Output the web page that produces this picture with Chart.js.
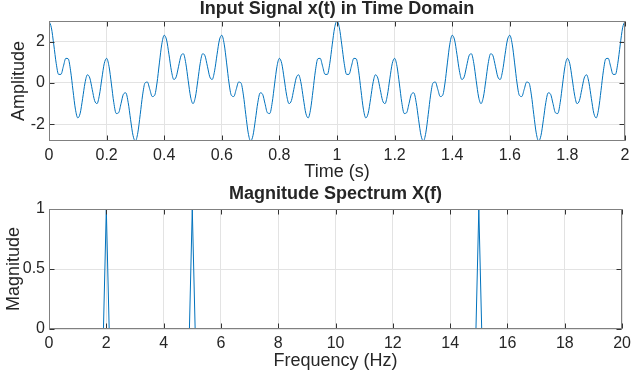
<!DOCTYPE html>
<html>
<head>
<meta charset="utf-8">
<script src="https://cdn.jsdelivr.net/npm/chart.js@4.4.0/dist/chart.umd.min.js"></script>
<style>
  html, body { margin: 0; padding: 0; background: #fff; }
  #wrap { position: relative; width: 636px; height: 374px; }
  #timeCanvas { position: absolute; left: 0; top: 0; }
  #specCanvas { position: absolute; left: 0; top: 185px; }
</style>
</head>
<body>
<div id="wrap">
  <canvas id="timeCanvas" width="636" height="185"></canvas>
  <canvas id="specCanvas" width="636" height="189"></canvas>
</div>
<script>
const timeStep = 1 / 120;
const amplitude = [
  // 0 .. 0.5 s
  3, 2.668, 1.844, 0.951, 0.414, 0.418, 0.809, 1.191,
  1.169, 0.588, -0.366, -1.266, -1.691, -1.465, -0.762, 0.0,
  0.396, 0.240, -0.309, -0.855, -1.0, -0.588, 0.197, 0.930,
  1.191, 0.807, -0.048, -0.951, -1.478, -1.443, -1.0, -0.546,
  -0.478, -0.951, -1.780, -2.539, -2.809, -2.416, -1.535, -0.588,
  0.0, 0.042, -0.309, -0.656, -0.605, 0.0, 0.971, 1.881,
  2.309, 2.080, 1.366, 0.588, 0.169, 0.295, 0.809, 1.314,
  1.414, 0.951, 0.112, -0.679,
  -1.0,
  // 0.5 .. 1 s
  -0.679, 0.112, 0.951, 1.414,
  1.314, 0.809, 0.295, 0.169, 0.588, 1.366, 2.080, 2.309,
  1.881, 0.971, 0.0, -0.605, -0.656, -0.309, 0.042, 0.0,
  -0.588, -1.535, -2.416, -2.809, -2.539, -1.780, -0.951, -0.478,
  -0.546, -1.0, -1.443, -1.478, -0.951, -0.048, 0.807, 1.191,
  0.930, 0.197, -0.588, -1.0, -0.855, -0.309, 0.240, 0.396,
  0.0, -0.762, -1.465, -1.691, -1.266, -0.366, 0.588, 1.169,
  1.191, 0.809, 0.418, 0.414, 0.951, 1.844, 2.668, 3,
  // 1 .. 1.5 s
  2.668, 1.844, 0.951, 0.414, 0.418, 0.809, 1.191,
  1.169, 0.588, -0.366, -1.266, -1.691, -1.465, -0.762, 0.0,
  0.396, 0.240, -0.309, -0.855, -1.0, -0.588, 0.197, 0.930,
  1.191, 0.807, -0.048, -0.951, -1.478, -1.443, -1.0, -0.546,
  -0.478, -0.951, -1.780, -2.539, -2.809, -2.416, -1.535, -0.588,
  0.0, 0.042, -0.309, -0.656, -0.605, 0.0, 0.971, 1.881,
  2.309, 2.080, 1.366, 0.588, 0.169, 0.295, 0.809, 1.314,
  1.414, 0.951, 0.112, -0.679,
  -1.0,
  // 1.5 .. 2 s
  -0.679, 0.112, 0.951, 1.414,
  1.314, 0.809, 0.295, 0.169, 0.588, 1.366, 2.080, 2.309,
  1.881, 0.971, 0.0, -0.605, -0.656, -0.309, 0.042, 0.0,
  -0.588, -1.535, -2.416, -2.809, -2.539, -1.780, -0.951, -0.478,
  -0.546, -1.0, -1.443, -1.478, -0.951, -0.048, 0.807, 1.191,
  0.930, 0.197, -0.588, -1.0, -0.855, -0.309, 0.240, 0.396,
  0.0, -0.762, -1.465, -1.691, -1.266, -0.366, 0.588, 1.169,
  1.191, 0.809, 0.418, 0.414, 0.951, 1.844, 2.668, 3
];

// Magnitude spectrum
const freqHz = [0, 1.9, 2, 2.1, 4.9, 5, 5.1, 14.9, 15, 15.1, 20];
const magnitude = [0, 0, 1, 0, 0, 1, 0, 0, 1, 0, 0];

// Tick values
const timeTicks = [0, 0.2, 0.4, 0.6, 0.8, 1, 1.2, 1.4, 1.6, 1.8, 2];
const ampTicks = [-2, 0, 2];
const freqTicks = [0, 2, 4, 6, 8, 10, 12, 14, 16, 18, 20];
const magTicks = [0, 0.5, 1];

const FONT = "'Liberation Sans', Arial, Helvetica, sans-serif";
const TEXT = '#262626';
const LINE = '#0072BD';
const GRID = '#e3e3e3';

// MATLAB-style box, inward ticks and titles
const matlabAxes = {
  id: 'matlabAxes',
  afterDraw(chart, args, opts) {
    const ctx = chart.ctx;
    const a = chart.chartArea;
    const xs = chart.scales.x, ys = chart.scales.y;
    const L = Math.round(a.left) + 0.5, R = Math.round(a.right) - 0.5;
    const T = Math.round(a.top) + 0.5, B = Math.round(a.bottom) - 0.5;
    ctx.save();
    // tick marks
    ctx.strokeStyle = '#333';
    ctx.lineWidth = 1;
    ctx.beginPath();
    xs.ticks.forEach(t => {
      const x = Math.round(xs.getPixelForValue(t.value)) + 0.5;
      ctx.moveTo(x, B); ctx.lineTo(x, B - 5);
      ctx.moveTo(x, T); ctx.lineTo(x, T + 5);
    });
    ys.ticks.forEach(t => {
      const y = Math.round(ys.getPixelForValue(t.value)) + 0.5;
      ctx.moveTo(L, y); ctx.lineTo(L + 5, y);
      ctx.moveTo(R, y); ctx.lineTo(R - 5, y);
    });
    ctx.stroke();
    // box
    ctx.strokeStyle = '#808080';
    ctx.strokeRect(L, T, R - L, B - T);
    // texts
    ctx.fillStyle = TEXT;
    ctx.textAlign = 'center';
    ctx.textBaseline = 'middle';
    const cx = (a.left + a.right) / 2;
    ctx.font = 'bold 18px ' + FONT;
    ctx.fillText(opts.title, cx, opts.titleY);
    ctx.font = '18px ' + FONT;
    ctx.fillText(opts.xLabel, cx, opts.xLabelY);
    ctx.translate(opts.yLabelX, (a.top + a.bottom) / 2);
    ctx.rotate(-Math.PI / 2);
    ctx.fillText(opts.yLabel, 0, 0);
    ctx.restore();
  }
};

function makeChart(canvasId, points, xr, yr, xTicks, yTicks, axisHeight, padTop, texts, extra) {
  return new Chart(document.getElementById(canvasId), {
    type: 'line',
    data: {
      datasets: [Object.assign({
        data: points,
        borderColor: LINE,
        borderWidth: 1,
        pointRadius: 0,
        fill: false
      }, extra)]
    },
    plugins: [matlabAxes],
    options: {
      responsive: false,
      animation: false,
      devicePixelRatio: 1,
      layout: { padding: { top: padTop, right: 11, left: 0, bottom: 0 } },
      plugins: {
        legend: { display: false },
        tooltip: { enabled: false },
        matlabAxes: texts
      },
      scales: {
        x: {
          type: 'linear',
          min: xr[0], max: xr[1],
          afterBuildTicks: s => { s.ticks = xTicks.map(v => ({ value: v })); },
          afterFit: s => { s.height = axisHeight; },
          grid: { color: GRID, drawTicks: false },
          border: { display: false },
          ticks: {
            padding: 5,
            color: TEXT,
            font: { family: FONT, size: 16 },
            maxRotation: 0,
            autoSkip: false,
            callback: v => String(v)
          }
        },
        y: {
          min: yr[0], max: yr[1],
          afterBuildTicks: s => { s.ticks = yTicks.map(v => ({ value: v })); },
          afterFit: s => { s.width = 49; },
          grid: { color: GRID, drawTicks: false },
          border: { display: false },
          ticks: {
            padding: 4,
            color: TEXT,
            font: { family: FONT, size: 16 },
            autoSkip: false,
            callback: v => String(v)
          }
        }
      }
    }
  });
}

const timePoints = amplitude.map((y, i) => ({ x: i * timeStep, y: y }));
const specPoints = freqHz.map((f, i) => ({ x: f, y: magnitude[i] }));

makeChart('timeCanvas', timePoints, [0, 2], [-2.81, 3], timeTicks, ampTicks, 44, 21, {
  title: 'Input Signal x(t) in Time Domain', titleY: 9,
  xLabel: 'Time (s)', xLabelY: 172,
  yLabel: 'Amplitude', yLabelX: 19
}, { cubicInterpolationMode: 'monotone' });

makeChart('specCanvas', specPoints, [0, 20], [0, 1], freqTicks, magTicks, 45, 24, {
  title: 'Magnitude Spectrum X(f)', titleY: 9,
  xLabel: 'Frequency (Hz)', xLabelY: 176,
  yLabel: 'Magnitude', yLabelX: 14
}, { tension: 0 });
</script>
</body>
</html>
